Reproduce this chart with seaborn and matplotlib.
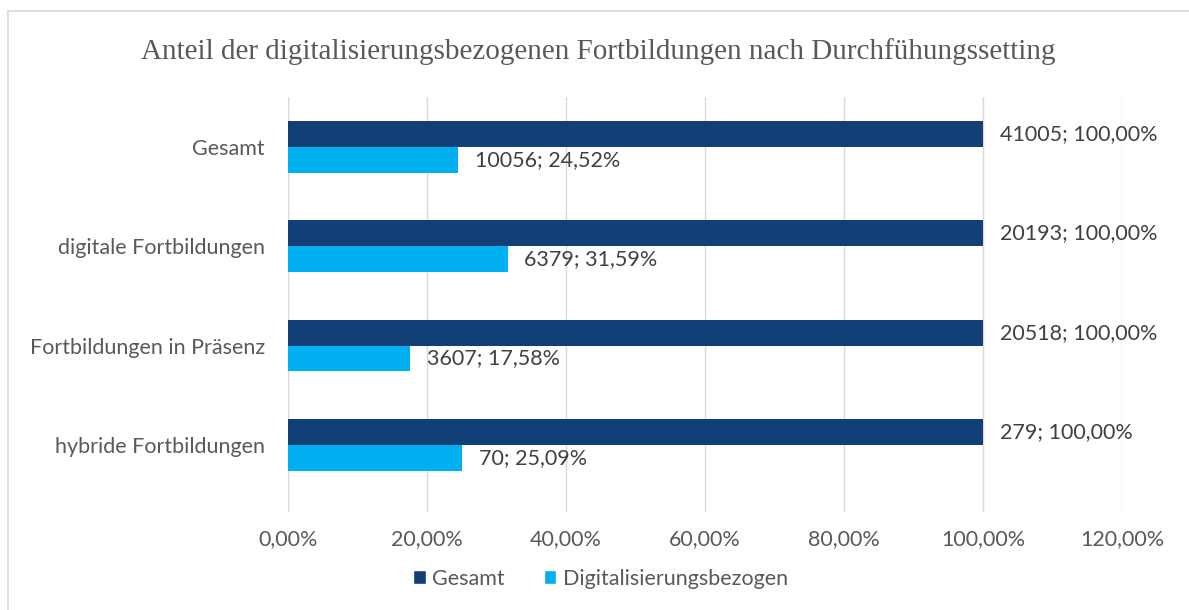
import matplotlib
matplotlib.use("Agg")
import matplotlib.pyplot as plt
import seaborn as sns
import pandas as pd
from matplotlib.patches import Rectangle, Patch

categories = ["Gesamt", "digitale Fortbildungen", "Fortbildungen in Präsenz", "hybride Fortbildungen"]
series = ["Gesamt", "Digitalisierungsbezogen"]
gesamt_counts = [41005, 20193, 20518, 279]
gesamt_pct = [100.00, 100.00, 100.00, 100.00]
digital_counts = [10056, 6379, 3607, 70]
digital_pct = [24.52, 31.59, 17.58, 25.09]
x_ticks = [0, 20, 40, 60, 80, 100, 120]

rows = []
for c, n, p in zip(categories, gesamt_counts, gesamt_pct):
    rows.append({"cat": c, "series": series[0], "pct": p, "n": n})
for c, n, p in zip(categories, digital_counts, digital_pct):
    rows.append({"cat": c, "series": series[1], "pct": p, "n": n})
df = pd.DataFrame(rows)

sns.set_theme(style="white")
plt.rcParams["font.family"] = ["Lato", "DejaVu Sans"]

colors = {"Gesamt": "#133F77", "Digitalisierungsbezogen": "#00B0F0"}
fig = plt.figure(figsize=(11.89, 6.10), dpi=100)
ax = fig.add_axes([0.2422, 0.1607, 0.9437 - 0.2422, 0.841 - 0.1607])

sns.barplot(data=df, x="pct", y="cat", hue="series", order=categories,
            hue_order=series, palette=colors, width=0.52, ax=ax,
            legend=False, saturation=1, errorbar=None, linewidth=0)

def fmt(v):
    return f"{v:.2f}".replace(".", ",")

for cont, s in zip(ax.containers, series):
    sub = df[df.series == s].set_index("cat").loc[categories]
    labels = [f"{n}; {fmt(p)}%" for n, p in zip(sub.n, sub.pct)]
    ax.bar_label(cont, labels=labels, padding=12, fontsize=15.5, color="#404040")

ax.set_xlim(0, 120)
ax.set_ylim(3.674, -0.503)
ax.set_xticks(x_ticks)
ax.set_xticklabels([f"{fmt(t)}%" for t in x_ticks], fontsize=15.5, color="#595959")
ax.tick_params(axis="y", labelsize=15.5, labelcolor="#595959", length=0, pad=16.5)
ax.tick_params(axis="x", length=0, pad=12)
ax.set_xlabel("")
ax.set_ylabel("")
ax.xaxis.grid(True, color="#D9D9D9", linewidth=1)
ax.set_axisbelow(True)
for sp in ax.spines.values():
    sp.set_visible(False)

handles = [Patch(facecolor=colors[s], label=s) for s in series]
fig.legend(handles=handles, loc="center", bbox_to_anchor=(0.505, 0.051), ncol=2,
           frameon=False, fontsize=15.5, handlelength=0.6, handleheight=0.6,
           handletextpad=0.3, columnspacing=1.8, labelcolor="#595959")

fig.text(0.503, 0.915, "Anteil der digitalisierungsbezogenen Fortbildungen nach Durchfühungssetting",
         ha="center", va="center", fontsize=21, color="#595959", family="Liberation Serif")

fig.patches.append(Rectangle((8 / 1189, -0.01), 1.1, 1 - 11 / 610 + 0.01,
                             transform=fig.transFigure, fill=False,
                             edgecolor="#D9D9D9", linewidth=1.2))

fig.savefig("out.png", dpi=100)
